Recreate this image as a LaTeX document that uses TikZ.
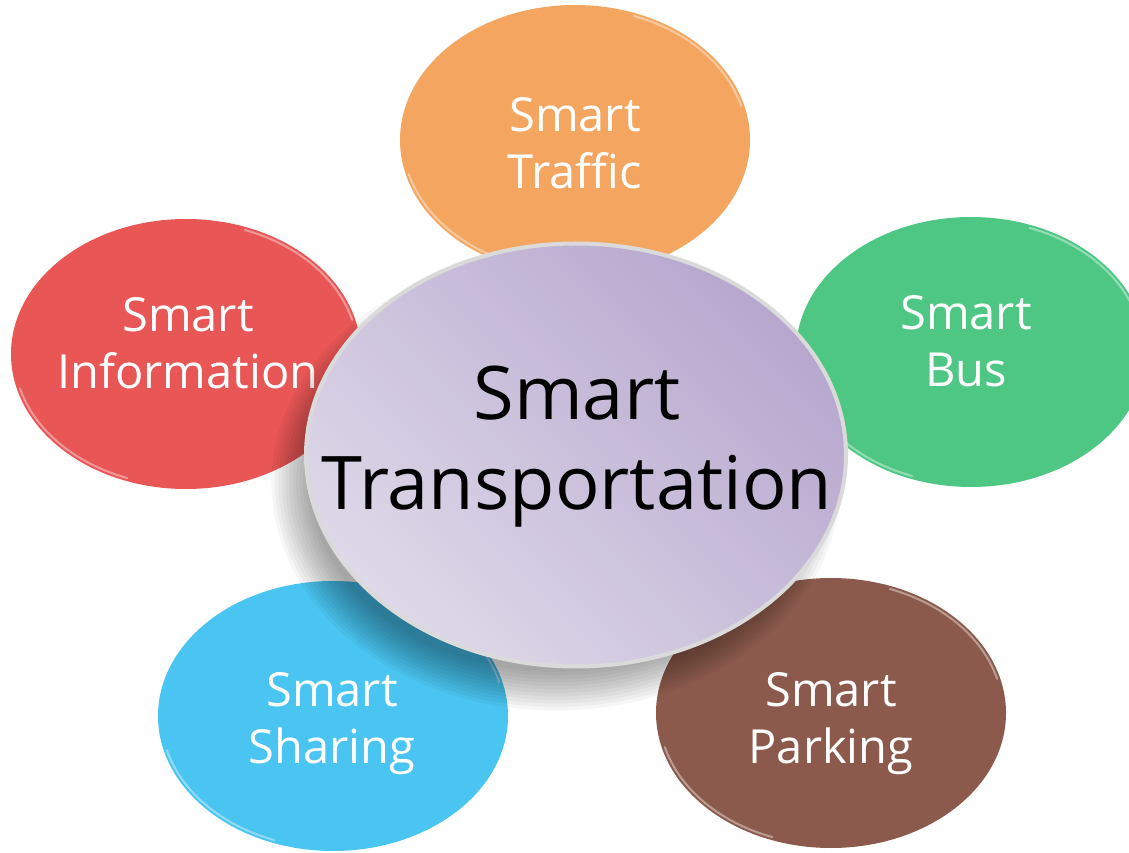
\documentclass[tikz,border=0pt]{standalone}
\usepackage{fontspec}
\setmainfont{Open Sans}
\usetikzlibrary{shapes.geometric}
\definecolor{orangeF}{HTML}{F4A661}
\definecolor{redF}{HTML}{E85656}
\definecolor{greenF}{HTML}{4EC784}
\definecolor{blueF}{HTML}{4AC4F0}
\definecolor{brownF}{HTML}{8B5A4C}
\definecolor{lavTop}{HTML}{B7A7CE}
\definecolor{lavBot}{HTML}{DED9E9}
\definecolor{rimC}{HTML}{DADADA}
\tikzset{
  outerblob/.style={ellipse, inner sep=0pt, minimum width=350pt, minimum height=270pt},
  outertext/.style={align=center, text=white, inner sep=0pt, text depth=0pt,
    font=\fontsize{47}{57}\selectfont},
  hubtext/.style={align=center, inner sep=0pt, text depth=0pt,
    font=\fontsize{74}{90}\selectfont},
  hl/.style={draw=white, opacity=0.4, line width=2pt, line cap=round},
}
\begin{document}
\begin{tikzpicture}[x=1pt,y=1pt]
\useasboundingbox (0,0) rectangle (1129,852);
\clip (0,0) rectangle (1129,852);
% outer ellipses
\node[outerblob, fill=orangeF] (traffic) at (575,712) {};
\node[outerblob, fill=redF]    (info)    at (186,498) {};
\node[outerblob, fill=greenF]  (bus)     at (971,500) {};
\node[outerblob, fill=blueF]   (sharing) at (333,136) {};
\node[outerblob, fill=brownF]  (parking) at (831,139) {};
% bevel highlights
\foreach \n in {traffic,info,bus,sharing,parking}{
  \draw[hl] (\n.center) ++(15:172 and 132) arc[start angle=15, end angle=70, x radius=172, y radius=132];
  \draw[hl] (\n.center) ++(195:172 and 132) arc[start angle=195, end angle=250, x radius=172, y radius=132];
}
% outer texts
\node[outertext] (ttraffic) at (575,709) {Smart\\Traffic};
\node[outertext] (tinfo)    at (188,509) {Smart\\Information};
\node[outertext] (tbus)     at (966,511) {Smart\\Bus};
\node[outertext] (tsharing) at (332,134) {Smart\\Sharing};
\node[outertext] (tparking) at (831,134) {Smart\\Parking};
% soft shadow of hub, offset down-left
\foreach \i in {0,...,11}{
  \fill[black, opacity=0.035] (556,369) ellipse[x radius={246+\i*3.5}, y radius={189+\i*3.5}];
}
% hub
\node[ellipse, inner sep=0pt, minimum width=540pt, minimum height=423pt,
      draw=rimC, line width=4pt, top color=lavTop, bottom color=lavBot,
      shading angle=-45] (hub) at (576,397) {};
\node[hubtext, text=black] (thub) at (577,414) {Smart\\Transportation};
\end{tikzpicture}
\end{document}
